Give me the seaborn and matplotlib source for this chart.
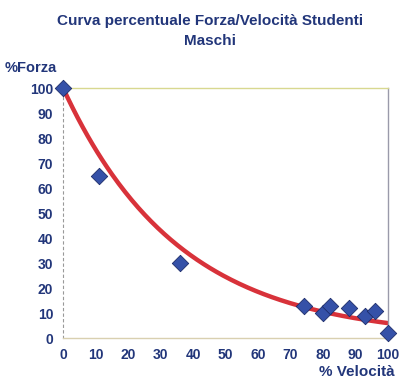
import numpy as np
import pandas as pd
import seaborn as sns
import matplotlib
matplotlib.use('Agg')
import matplotlib.pyplot as plt

sns.set_style('white')
plt.rcParams['font.family'] = ['Liberation Sans', 'DejaVu Sans']

velocita = [0, 11, 36, 74, 80, 82, 88, 93, 96, 100]
forza = [100, 65, 30, 13, 10, 13, 12, 9, 11, 2]

df = pd.DataFrame({'vel': velocita, 'forza': forza})

# exponential trendline, Excel-style
a, b = 100, np.log(100 / 6) / 100
xx = np.linspace(0, 100, 200)
trend = pd.DataFrame({'vel': xx, 'forza': a * np.exp(-b * xx)})

navy = '#22367a'
fig = plt.figure(figsize=(4.15, 3.86), dpi=100)
ax = fig.add_axes([0.152, 0.124, 0.783, 0.648])

sns.lineplot(data=trend, x='vel', y='forza', color='#d8323a', lw=3.2, ax=ax, zorder=2)
sns.scatterplot(data=df, x='vel', y='forza', marker='D', s=70, color='#3551a8',
                edgecolor='#1c2c6a', linewidth=0.6, ax=ax, zorder=3, clip_on=False)

ax.set_xlim(0, 100)
ax.set_ylim(0, 100)
ax.set_xticks(range(0, 101, 10))
ax.set_yticks(range(0, 101, 10))
ax.tick_params(labelsize=10, labelcolor=navy, length=2, width=0.6, color='#888888', pad=5)
for lab in ax.get_xticklabels() + ax.get_yticklabels():
    lab.set_fontweight('bold')
ax.set_xlabel('')
ax.set_ylabel('')

ax.spines['left'].set_color('#999999')
ax.spines['left'].set_linestyle((0, (2, 3)))
ax.spines['left'].set_linewidth(0.8)
ax.spines['bottom'].set_color('#d9d0b0')
ax.spines['bottom'].set_linewidth(1.0)
ax.spines['top'].set_color('#d8d890')
ax.spines['top'].set_linewidth(1.0)
ax.spines['right'].set_color('#9a9aaa')
ax.spines['right'].set_linewidth(1.0)

fig.text(0.505, 0.945, 'Curva percentuale Forza/Velocità Studenti', ha='center', va='center',
         fontsize=11, fontweight='bold', color=navy)
fig.text(0.505, 0.893, 'Maschi', ha='center', va='center',
         fontsize=11, fontweight='bold', color=navy)
fig.text(0.012, 0.823, '%Forza', ha='left', va='center',
         fontsize=10.5, fontweight='bold', color=navy)
fig.text(0.952, 0.037, '% Velocità', ha='right', va='center',
         fontsize=11, fontweight='bold', color=navy)

plt.savefig('out.png', dpi=100)
